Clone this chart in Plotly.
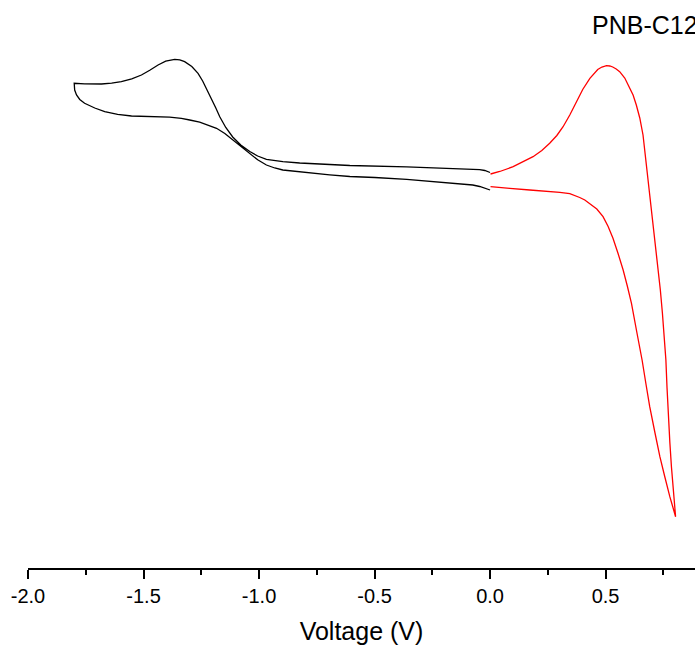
import plotly.graph_objects as go

# Black scan (cathodic region): voltage (V) and current (a.u.)
black_v = [0.000, -0.023, -0.045, -0.075, -0.218, -0.361, -0.499, -0.607, -0.694, -0.752,
           -0.824, -0.897, -0.932, -0.968, -1.006, -1.040, -1.077, -1.114, -1.148, -1.184,
           -1.222, -1.257, -1.300, -1.336, -1.387, -1.437, -1.495, -1.552, -1.612, -1.668,
           -1.711, -1.755, -1.776, -1.790, -1.798, -1.800, -1.800,
           -1.755, -1.682, -1.638, -1.596, -1.551, -1.509, -1.473, -1.437, -1.404, -1.382,
           -1.365, -1.343, -1.322, -1.291, -1.264, -1.244, -1.228, -1.206, -1.187, -1.170,
           -1.144, -1.114, -1.079, -1.040, -1.006, -0.968, -0.932, -0.897, -0.824, -0.752,
           -0.607, -0.361, -0.218, -0.075, -0.045, -0.023, 0.000]
black_i = [37.80, 37.98, 38.15, 38.30, 38.60, 38.87, 39.05, 39.15, 39.32, 39.47,
           39.62, 39.80, 40.00, 40.30, 40.82, 41.47, 42.15, 42.80, 43.45, 43.97,
           44.32, 44.58, 44.80, 44.97, 45.08, 45.13, 45.15, 45.20, 45.37, 45.63,
           46.00, 46.47, 46.85, 47.30, 47.80, 48.30, 48.47,
           48.42, 48.40, 48.48, 48.63, 48.92, 49.30, 49.78, 50.30, 50.68, 50.82,
           50.87, 50.81, 50.63, 50.15, 49.47, 48.70, 47.95, 47.00, 46.00, 45.13,
           44.05, 43.10, 42.30, 41.65, 41.20, 40.87, 40.72, 40.63, 40.50, 40.40,
           40.25, 40.12, 40.02, 39.90, 39.84, 39.75, 39.55]

# Red scan (anodic region)
red_v = [0.002, 0.042, 0.100, 0.142, 0.186, 0.224, 0.258, 0.289, 0.316, 0.345,
         0.374, 0.401, 0.432, 0.449, 0.466, 0.484, 0.504, 0.518, 0.531, 0.546,
         0.561, 0.583, 0.600, 0.619, 0.633, 0.648, 0.662, 0.672, 0.684, 0.694,
         0.706, 0.716, 0.727, 0.737, 0.746, 0.754, 0.761, 0.766, 0.771, 0.778,
         0.785, 0.794, 0.803,
         0.791, 0.778, 0.756, 0.735, 0.713, 0.691, 0.674, 0.658, 0.635, 0.612,
         0.594, 0.576, 0.554, 0.532, 0.511, 0.489, 0.462, 0.432, 0.410, 0.388,
         0.366, 0.345, 0.302, 0.258, 0.172, 0.085, 0.002]
red_i = [39.40, 39.65, 40.13, 40.60, 41.13, 41.75, 42.47, 43.25, 44.13, 45.30,
         46.63, 47.85, 48.97, 49.45, 49.85, 50.10, 50.23, 50.20, 50.10, 49.90,
         49.63, 49.00, 48.25, 47.30, 46.30, 45.00, 43.30, 41.30, 38.80, 36.80,
         34.47, 32.30, 30.13, 27.80, 25.47, 23.10, 20.80, 18.00, 15.13, 12.60,
         10.13, 7.60, 5.13,
         6.10, 7.13, 9.15, 11.13, 13.60, 16.13, 18.50, 20.80, 23.60, 26.47,
         28.20, 29.80, 31.45, 32.97, 34.15, 35.13, 35.90, 36.47, 36.80, 37.05,
         37.28, 37.43, 37.57, 37.67, 37.80, 37.97, 38.13]

tick_vals = [-2.0, -1.5, -1.0, -0.5, 0.0, 0.5]
tick_text = ["-2.0", "-1.5", "-1.0", "-0.5", "0.0", "0.5"]

FONT = "Arial, 'Liberation Sans', sans-serif"

fig = go.Figure()
fig.add_trace(go.Scatter(x=black_v, y=black_i, mode="lines",
                         line=dict(color="black", width=1.3),
                         showlegend=False))
fig.add_trace(go.Scatter(x=red_v, y=red_i, mode="lines",
                         line=dict(color="red", width=1.3),
                         showlegend=False))

fig.add_annotation(text="PNB-C12", x=0.842, y=0.956, xref="paper", yref="paper",
                   xanchor="left", yanchor="middle", showarrow=False,
                   font=dict(family=FONT, size=25, color="black"))

fig.update_layout(
    width=695, height=652,
    margin=dict(l=28, r=0, t=0, b=84),
    plot_bgcolor="white", paper_bgcolor="white",
    font=dict(family=FONT, color="black"),
    xaxis=dict(range=[-2.0, 0.887], tickvals=tick_vals, ticktext=tick_text,
               ticks="outside", ticklen=9, tickwidth=2, tickcolor="black",
               showline=True, linewidth=2, linecolor="black",
               showgrid=False, zeroline=False, automargin=False,
               tickfont=dict(size=20, family=FONT, color="black"),
               minor=dict(dtick=0.25, tick0=0, ticks="outside", ticklen=5,
                          tickwidth=2, tickcolor="black", showgrid=False),
               title=dict(text="Voltage (V)", standoff=16,
                          font=dict(size=25, family=FONT, color="black"))),
    yaxis=dict(range=[0, 56.8], visible=False, showgrid=False, zeroline=False),
)

fig.write_html("out.html")
